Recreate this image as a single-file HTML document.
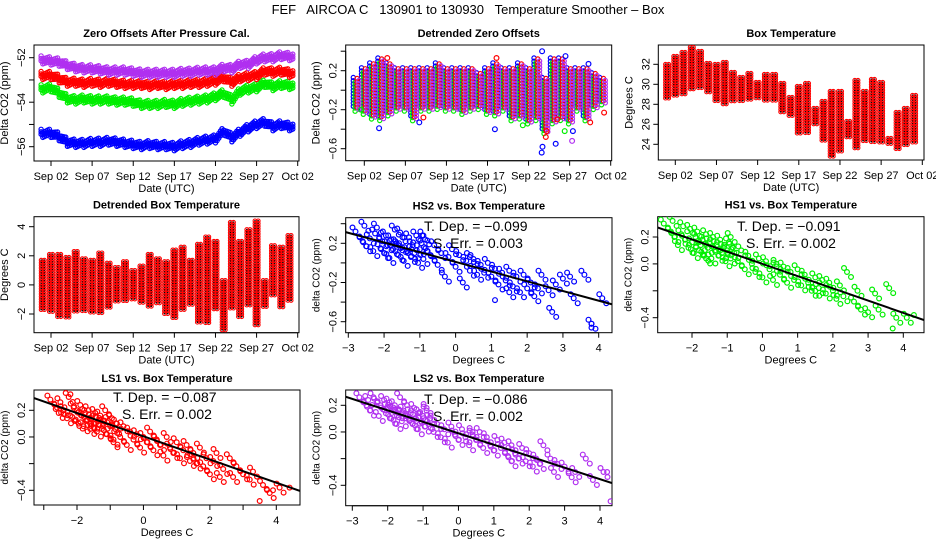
<!DOCTYPE html>
<html><head><meta charset="utf-8"><title>FEF AIRCOA C Temperature Smoother</title>
<style>
html,body{margin:0;padding:0;background:#fff;}
svg{display:block;font-family:"Liberation Sans",Arial,sans-serif;}
</style></head>
<body>
<svg id="fig" width="936" height="540" viewBox="0 0 936 540" xmlns="http://www.w3.org/2000/svg">
<rect x="0" y="0" width="936" height="540" fill="#fff"/>
<text x="468" y="14" font-size="13" text-anchor="middle" xml:space="preserve">FEF   AIRCOA C   130901 to 130930   Temperature Smoother – Box</text>
</svg>
<script>
// ---------- data ----------
const zeroLS2 = [-52.1,-52.15,-52.2,-52.35,-52.45,-52.5,-52.5,-52.55,-52.6,-52.6,-52.6,-52.65,-52.7,-52.7,-52.7,-52.7,-52.7,-52.65,-52.65,-52.6,-52.6,-52.6,-52.45,-52.5,-52.3,-52.3,-52.1,-52.0,-52.0,-51.9,-51.95];
const zeroLS1 = [-52.8,-52.8,-52.95,-53.1,-53.1,-53.15,-53.1,-53.15,-53.1,-53.15,-53.2,-53.2,-53.2,-53.25,-53.2,-53.25,-53.2,-53.2,-53.15,-53.15,-53.1,-53.05,-52.9,-53.1,-52.9,-52.85,-52.8,-52.6,-52.65,-52.6,-52.7];
const zeroHS1 = [-53.4,-53.35,-53.6,-53.85,-53.9,-53.85,-53.9,-53.9,-53.9,-53.95,-53.95,-54.0,-54.1,-54.1,-54.1,-54.05,-54.1,-54.0,-53.95,-53.9,-53.85,-53.75,-53.6,-53.9,-53.5,-53.4,-53.35,-53.15,-53.3,-53.2,-53.25];
const zeroHS2 = [-55.4,-55.4,-55.55,-55.8,-55.85,-55.85,-55.8,-55.8,-55.75,-55.8,-55.85,-55.9,-55.95,-55.9,-55.95,-55.95,-56.0,-55.9,-55.85,-55.75,-55.7,-55.65,-55.3,-55.6,-55.35,-55.15,-55.0,-54.9,-55.1,-55.0,-55.1];
const detLo = [-0.2,-0.25,-0.3,-0.3,-0.25,-0.2,-0.2,-0.3,-0.2,-0.2,-0.2,-0.2,-0.2,-0.25,-0.2,-0.2,-0.25,-0.25,-0.2,-0.3,-0.3,-0.35,-0.3,-0.45,-0.35,-0.3,-0.35,-0.2,-0.3,-0.2,-0.15];
const detHi = [0.1,0.2,0.25,0.3,0.25,0.2,0.2,0.2,0.2,0.2,0.25,0.2,0.2,0.2,0.2,0.15,0.2,0.25,0.2,0.2,0.25,0.2,0.3,0.1,0.3,0.3,0.2,0.2,0.2,0.15,0.1];
const outBlueDay = [3.8,8.7,17.9,23.6,23.7,23.65,25.3,26.5,27.4,29.3];
const outBlueVal = [-0.39,-0.33,-0.4,-0.64,-0.58,0.4,-0.55,0.35,-0.42,0.27];
const outRedDay = [4.8,9.2,18.1,24.1,24.2,25.5,29.5,31.2];
const outRedVal = [0.33,-0.28,0.33,-0.48,-0.42,-0.3,-0.33,-0.23];
const outGreenDay = [1.6,21.3,26.4];
const outGreenVal = [-0.2,-0.36,-0.42];
const outPurpleDay = [27.3];
const outPurpleVal = [-0.52];
const boxLo = [28.6,28.7,28.8,29.5,29.6,29.0,28.3,28.0,28.2,28.3,28.3,28.5,28.2,28.3,27.1,26.8,25.1,25.0,25.9,24.3,22.8,23.3,24.5,23.4,24.2,24.1,24.0,23.9,23.5,23.8,24.0];
const boxHi = [32.0,32.8,33.2,33.7,33.3,32.1,32.0,32.2,31.2,30.7,31.1,30.2,31.0,31.0,30.1,28.7,29.8,30.1,27.6,28.3,29.3,29.3,26.3,30.4,29.3,30.5,30.2,24.6,27.2,27.6,28.9];
const dbLo = [-1.7,-1.9,-2.2,-2.3,-1.9,-1.9,-2.0,-2.0,-1.7,-1.3,-1.1,-1.0,-1.3,-1.6,-1.4,-2.0,-2.4,-1.7,-1.5,-2.6,-2.6,-1.7,-3.1,-1.6,-2.2,-1.4,-2.8,-1.5,-0.7,-1.6,-1.2];
const dbHi = [1.7,2.1,2.1,1.9,2.3,1.8,1.7,2.2,1.5,1.2,1.6,1.0,1.3,2.1,1.8,1.6,2.4,2.6,1.7,2.8,3.3,3.0,0.3,4.3,3.0,3.8,4.4,0.3,2.7,2.6,3.4];
const tempX = [-2.8,-2.6,-2.55,-2.5,-2.4,-2.3,-2.25,-2.2,-2.1,-2.05,-2.0,-1.95,-1.9,-1.85,-1.8,-1.75,-1.7,-1.65,-1.6,-1.55,-1.5,-1.45,-1.4,-1.35,-1.3,-1.25,-1.2,-1.15,-1.1,-1.05,-1.0,-0.95,-0.9,-0.85,-0.8,-0.7,-0.6,-0.5,-0.4,-0.3,-0.2,-0.1,0.0,0.1,0.2,0.3,0.4,0.5,0.6,0.7,0.8,0.9,1.0,1.1,1.2,1.3,1.4,1.5,1.6,1.7,1.8,1.9,2.0,2.1,2.2,2.3,2.4,2.6,2.7,2.8,3.0,3.2,3.3,3.6,3.8,4.1,-1.6,-0.9,0.4,1.5];
const hs2Y = [0.32,0.22,0.38,0.17,0.25,0.12,0.3,0.36,0.15,0.22,0.1,0.28,0.18,0.05,0.24,0.14,0.34,0.2,0.08,0.31,0.16,0.02,0.22,0.12,0.26,0.06,0.18,0.1,0.28,0.0,0.14,0.2,0.04,0.24,0.12,0.08,0.18,-0.02,0.1,-0.14,0.06,0.14,-0.04,0.08,-0.2,0.02,-0.08,0.04,-0.12,-0.02,-0.1,0.0,-0.14,-0.06,-0.22,-0.1,-0.18,-0.08,-0.24,-0.14,-0.3,-0.12,-0.26,-0.2,-0.34,-0.26,-0.12,-0.28,-0.5,-0.22,-0.16,-0.14,-0.36,-0.12,-0.62,-0.36,0.18,0.28,0.06,-0.3];
const hs1Y = [0.3,0.24,0.32,0.2,0.14,0.22,0.28,0.18,0.12,0.26,0.16,0.08,0.2,0.24,0.1,0.14,0.18,0.06,0.22,0.12,0.16,0.04,0.2,0.1,0.14,0.06,0.18,0.08,0.12,0.02,0.1,0.16,0.04,0.12,0.08,0.02,0.1,-0.04,0.06,0.0,-0.06,0.04,-0.1,0.02,-0.04,-0.12,0.0,-0.08,-0.02,-0.14,-0.06,-0.12,-0.04,-0.16,-0.08,-0.14,-0.2,-0.1,-0.18,-0.12,-0.22,-0.14,-0.2,-0.26,-0.16,-0.24,-0.06,-0.28,-0.2,-0.34,-0.36,-0.22,-0.34,-0.18,-0.4,-0.4,0.04,0.2,-0.02,-0.2];
const ls1Y = [0.28,0.22,0.18,0.26,0.2,0.14,0.3,0.16,0.22,0.12,0.2,0.1,0.24,0.16,0.08,0.18,0.12,0.2,0.06,0.14,0.1,0.18,0.04,0.12,0.16,0.06,0.1,0.2,0.02,0.12,0.08,0.14,-0.02,0.06,0.1,0.0,0.08,-0.06,0.04,-0.02,0.02,-0.08,0.0,-0.04,0.04,-0.1,-0.02,-0.06,-0.14,0.0,-0.08,-0.12,-0.04,-0.16,-0.1,-0.06,-0.18,-0.12,-0.2,-0.08,-0.22,-0.16,-0.28,-0.18,-0.12,-0.3,-0.24,-0.16,-0.3,-0.22,-0.28,-0.32,-0.26,-0.36,-0.42,-0.38,0.1,-0.04,-0.02,-0.16];
const ls2Y = [0.26,0.2,0.24,0.16,0.26,0.22,0.12,0.2,0.24,0.14,0.18,0.22,0.1,0.16,0.2,0.06,0.14,0.26,0.08,0.16,0.12,0.2,0.1,0.14,0.06,0.18,0.1,0.02,0.14,0.08,0.12,0.04,0.18,0.06,0.1,0.0,0.06,-0.04,0.02,-0.08,0.04,-0.02,-0.06,0.02,-0.04,-0.1,-0.02,-0.06,0.0,-0.12,-0.04,-0.1,-0.14,-0.06,-0.12,-0.08,-0.18,-0.1,-0.16,-0.2,-0.12,-0.22,-0.16,-0.26,-0.2,-0.24,-0.1,-0.2,-0.3,-0.24,-0.26,-0.34,-0.3,-0.2,-0.36,-0.3,0.14,0.16,0.0,-0.22];
const extraHs2X = [1.1,3.8,3.8], extraHs2Y = [-0.38,-0.66,-0.62];
const extraHs1X = [3.7,4.3], extraHs1Y = [-0.48,-0.38];
const extraLs1X = [3.5,3.9,4.4,-2.2], extraLs1Y = [-0.48,-0.4,-0.38,0.32];
const extraLs2X = [4.3,4.2], extraLs2Y = [-0.52,-0.3];
const fitSlopes = [-0.099,-0.091,-0.087,-0.086];
const fitIntercepts = [0.01,0.0,0.005,-0.01];
const fitSlopeLabels = ["−0.099","−0.091","−0.087","−0.086"];
const fitErrLabels = ["0.003","0.002","0.002","0.002"];
const dateTickDays = [2,7,12,17,22,27,32];
const dateTickLabels = ["Sep 02","Sep 07","Sep 12","Sep 17","Sep 22","Sep 27","Oct 02"];

// ---------- helpers ----------
const NS = "http://www.w3.org/2000/svg";
const svg = document.getElementById("fig");
function mk(tag, parent){ const e=document.createElementNS(NS,tag); parent.appendChild(e); return e; }
function lin(d0,p0,d1,p1){ return v => p0 + (v-d0)*(p1-p0)/(d1-d0); }
function circ(g,x,y,col,r,sw){
  const c = mk("circle", g);
  
  
  c.setAttribute("cx",x.toFixed(1)); c.setAttribute("cy",y.toFixed(1));
  c.setAttribute("r", r||2.2); c.setAttribute("fill","none");
  c.setAttribute("stroke",col); c.setAttribute("stroke-width",sw||"1.2");
  return c;
}
function txt(g,x,y,s,size,anchor,rot,bold){
  const t = mk("text", g);
  t.setAttribute("x",x); t.setAttribute("y",y);
  t.setAttribute("font-size",size); t.setAttribute("text-anchor",anchor||"middle");
  if(bold) t.setAttribute("font-weight","bold");
  if(rot) t.setAttribute("transform","rotate(-90 "+x+" "+y+")");
  t.textContent = s;
  return t;
}
function line(g,x1,y1,x2,y2,w){
  const l = mk("line", g);
  l.setAttribute("x1",x1); l.setAttribute("y1",y1); l.setAttribute("x2",x2); l.setAttribute("y2",y2);
  l.setAttribute("stroke","#000"); l.setAttribute("stroke-width",w||1);
  return l;
}
function frame(name, box, title, xlab, ylab, ylabSize, xs, ys, xt, xtl, yt, ytl){
  const g = mk("g", svg);
  
  
  const r = mk("rect", g);
  
  
  r.setAttribute("x",box.x0); r.setAttribute("y",box.y0);
  r.setAttribute("width",box.x1-box.x0); r.setAttribute("height",box.y1-box.y0);
  r.setAttribute("fill","none"); r.setAttribute("stroke","#000");
  const t = txt(g,(box.x0+box.x1)/2,box.y0-8,title,11,"middle",false,true);
  
  
  const xa = mk("g", g);
  
  
  const xp = xt.map(xs);
  line(xa, xp[0], box.y1, xp[xp.length-1], box.y1);
  xt.forEach((v,i)=>{
    const px = xs(v);
    line(xa, px, box.y1, px, box.y1+5);
    if(xtl[i]!==""){
      const lb = txt(xa, px, box.y1+19, xtl[i], 11);
      
      
    }
  });
  const xl = txt(g,(box.x0+box.x1)/2, box.y1+31, xlab, 11);
  
  
  const ya = mk("g", g);
  
  
  const yp = yt.map(ys);
  line(ya, box.x0, yp[0], box.x0, yp[yp.length-1]);
  yt.forEach((v,i)=>{
    const py = ys(v);
    line(ya, box.x0-5, py, box.x0, py);
    if(ytl[i]!==""){
      const lb = txt(ya, box.x0-9, py, ytl[i], 11, "middle", true);
      
      
    }
  });
  const yl = txt(g, box.x0-26, (box.y0+box.y1)/2, ylab, ylabSize, "middle", true);
  
  
  const pg = mk("g", g);
  
  
  return pg;
}

// ---------- Panel 1 ----------
(function(){
  const box={x0:34,x1:299,y0:45,y1:161};
  const xs=lin(2,51.0,32,297.7), ys=lin(-52,57.7,-56,146.7);
  const g=frame("zero-offsets-panel",box,"Zero Offsets After Pressure Cal.","Date (UTC)","Delta CO2 (ppm)",11,xs,ys,dateTickDays,dateTickLabels,[-52,-53,-54,-55,-56],["−52","","−54","","−56"]);
  const series=[[zeroHS2,"#0000ff"],[zeroHS1,"#00ee00"],[zeroLS1,"#ff0000"],[zeroLS2,"#b030f0"]];
  series.forEach(([arr,col])=>{
    const sg = mk("g", g);
    
    
    const n=arr.length;
    for(let d=0.8; d<=n+0.4; d+=0.2){
      const f=Math.min(Math.max(d-1,0),n-1), i0=Math.floor(f), i1=Math.min(i0+1,n-1), fr=f-i0;
      const v=arr[i0]*(1-fr)+arr[i1]*fr;
      const jig = ((Math.round(d/0.2))%5-2)*0.035;
      [-0.11,0,0.11].forEach(o=>circ(sg,xs(d),ys(v+o+jig),col,2.1));
    }
  });
})();

// ---------- Panel 2 ----------
(function(){
  const box={x0:345.7,x1:611.7,y0:45,y1:160.7};
  const xs=lin(2,364.3,32,610.7), ys=lin(0.2,70.7,-0.6,148.7);
  const g=frame("detrended-zero-offsets-panel",box,"Detrended Zero Offsets","Date (UTC)","Delta CO2 (ppm)",11,xs,ys,dateTickDays,dateTickLabels,[0.4,0.2,0,-0.2,-0.4,-0.6],["","0.2","","−0.2","","−0.6"]);
  const cols=[["#0000ff",-2.8,0.03],["#00ee00",-1,-0.02],["#ff0000",1,0.02],["#b030f0",2.8,0]];
  cols.forEach(([col,dx,dy])=>{
    const sg = mk("g", g);
    
    
    detLo.forEach((lo,i)=>{
      const hi=detHi[i], x=xs(i+1)+dx;
      for(let py=ys(hi+dy); py<=ys(lo+dy); py+=3.2){ circ(sg,x,py,col,2.1); }
    });
  });
  [[outBlueDay,outBlueVal,"#0000ff"],[outRedDay,outRedVal,"#ff0000"],[outGreenDay,outGreenVal,"#00ee00"],[outPurpleDay,outPurpleVal,"#b030f0"]].forEach(([ds,vs,col])=>{
    ds.forEach((d,i)=>circ(g,xs(d),ys(vs[i]),col,2.4));
  });
})();

// ---------- Panel 3 & 4 (comb) ----------
function comb(g,xs,ys,lo,hi){
  lo.forEach((l,i)=>{
    const h=hi[i], xc=xs(i+1);
    [-1.6,1.6].forEach(dx=>{
      for(let py=ys(h); py<=ys(l); py+=2.6){
        circ(g,xc+dx,py,"#ff0000",1.9,1.1);
        circ(g,xc+dx,py,"#000",0.5,0.8);
      }
    });
  });
}
(function(){
  const box={x0:658.3,x1:924,y0:45,y1:160};
  const xs=lin(2,675.3,32,922.3), ys=lin(32,64.3,24,144.3);
  const g=frame("box-temperature-panel",box,"Box Temperature","Date (UTC)","Degrees C",11,xs,ys,dateTickDays,dateTickLabels,[24,26,28,30,32],["24","26","28","30","32"]);
  comb(g,xs,ys,boxLo,boxHi);
})();
(function(){
  const box={x0:34,x1:299,y0:216.7,y1:332.7};
  const xs=lin(2,51.0,32,297.7), ys=lin(4,226.7,-2,314);
  const g=frame("detrended-box-temperature-panel",box,"Detrended Box Temperature","Date (UTC)","Degrees C",11,xs,ys,dateTickDays,dateTickLabels,[-2,0,2,4],["−2","0","2","4"]);
  comb(g,xs,ys,dbLo,dbHi);
})();

// ---------- scatter panels ----------
function scatter(name,box,title,xs,ys,xt,xtl,yt,ytl,yv,ex,ey,col,fi,ann){
  const g=frame(name,box,title,"Degrees C","delta CO2 (ppm)",10,xs,ys,xt,xtl,yt,ytl);
  const cp=mk("clipPath",svg); const cid=name+"-clip"; cp.setAttribute("id",cid);
  const cr=mk("rect",cp); cr.setAttribute("x",box.x0); cr.setAttribute("y",box.y0); cr.setAttribute("width",box.x1-box.x0); cr.setAttribute("height",box.y1-box.y0);
  g.setAttribute("clip-path","url(#"+cid+")");
  tempX.forEach((x,i)=>{
    circ(g,xs(x),ys(yv[i]),col,2.4);
    circ(g,xs(x)+4,ys(yv[i])+5,col,2.4);
    circ(g,xs(x)-3,ys(yv[i])-4,col,2.4);
  });
  ex.forEach((x,i)=>circ(g,xs(x),ys(ey[i]),col,2.4));
  const xa=-4, xb=6;
  const fl = line(g, xs(xa), ys(fitIntercepts[fi]+fitSlopes[fi]*xa), xs(xb), ys(fitIntercepts[fi]+fitSlopes[fi]*xb), 2);
  
  
  const t1=txt(svg,ann[0],ann[1],"T. Dep. =  "+fitSlopeLabels[fi],14,"start");
  
  
  const t2=txt(svg,ann[0]+9,ann[1]+17,"S. Err. =  "+fitErrLabels[fi],14,"start");
  
  
}
scatter("hs2-vs-box-panel",{x0:345.7,x1:612,y0:217.7,y1:332.7},"HS2 vs. Box Temperature",
  lin(-3,348.3,4,598.7),lin(0.2,243.3,-0.6,321.7),[-3,-2,-1,0,1,2,3,4],["−3","−2","−1","0","1","2","3","4"],
  [0.4,0.2,0,-0.2,-0.4,-0.6],["","0.2","","−0.2","","−0.6"],hs2Y,extraHs2X,extraHs2Y,"#0000ff",0,[424,231]);
scatter("hs1-vs-box-panel",{x0:657.7,x1:924,y0:216.7,y1:332.7},"HS1 vs. Box Temperature",
  lin(-2,692,4,903.3),lin(0.2,237,-0.4,317.7),[-2,-1,0,1,2,3,4],["−2","−1","0","1","2","3","4"],
  [0.2,0,-0.2,-0.4],["0.2","0.0","","−0.4"],hs1Y,extraHs1X,extraHs1Y,"#00ee00",1,[737,231]);
scatter("ls1-vs-box-panel",{x0:34,x1:300,y0:390,y1:505},"LS1 vs. Box Temperature",
  lin(-2,77,4,276.3),lin(0.2,410.3,-0.4,490.3),[-3,-2,-1,0,1,2,3,4],["","−2","","0","","2","","4"],
  [0.2,0,-0.2,-0.4],["0.2","0.0","","−0.4"],ls1Y,extraLs1X,extraLs1Y,"#ff0000",2,[113,402]);
scatter("ls2-vs-box-panel",{x0:345.7,x1:612,y0:390,y1:505.7},"LS2 vs. Box Temperature",
  lin(-3,352.3,4,600),lin(0.2,405.3,-0.4,485.3),[-3,-2,-1,0,1,2,3,4],["−3","−2","−1","0","1","2","3","4"],
  [0.2,0,-0.2,-0.4],["0.2","0.0","","−0.4"],ls2Y,extraLs2X,extraLs2Y,"#b030f0",3,[424,404]);
</script>
</body></html>
